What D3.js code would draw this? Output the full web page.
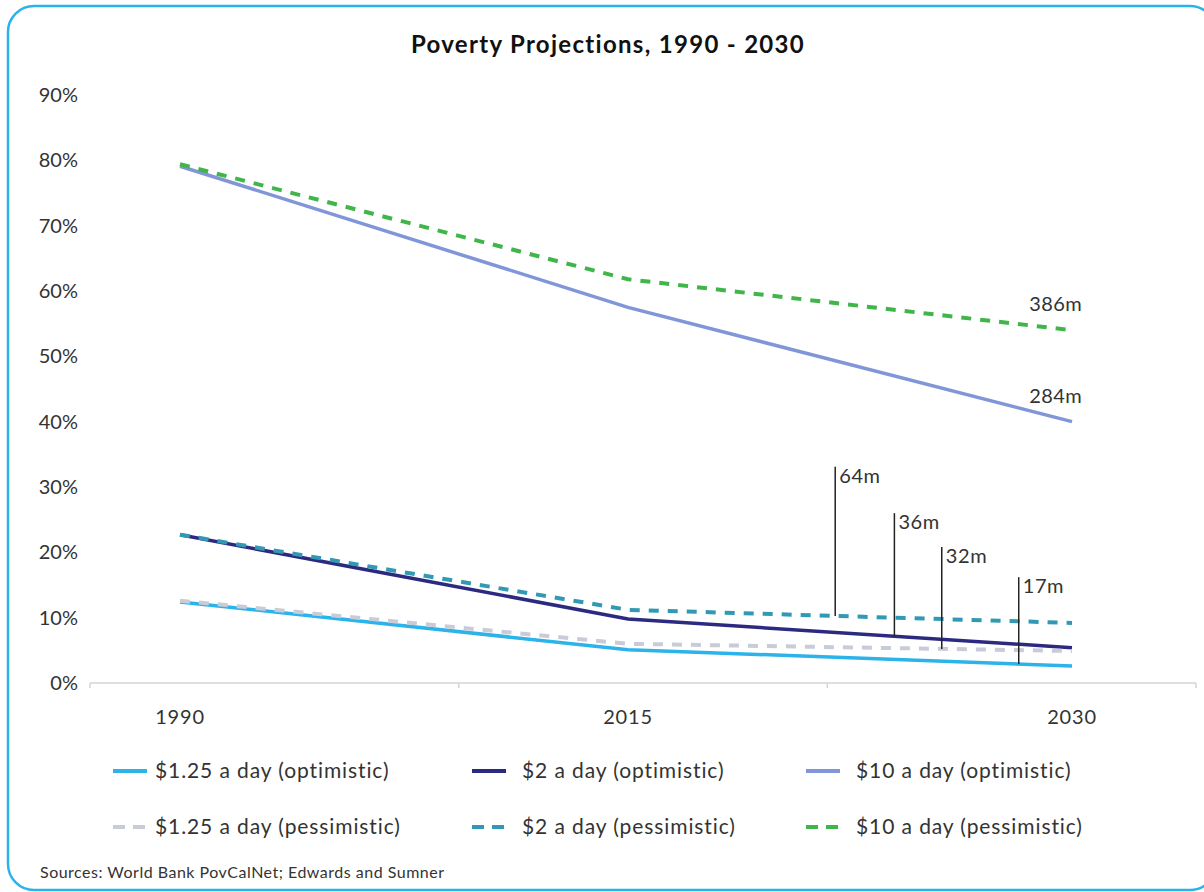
<!DOCTYPE html>
<html>
<head>
<meta charset="utf-8">
<script src="https://cdn.jsdelivr.net/npm/d3@7"></script>
<style>
  html, body { margin: 0; padding: 0; background: #fff; }
  svg { display: block; font-family: Lato, "Open Sans", sans-serif; }
</style>
</head>
<body>
<div id="chart"></div>
<script>
// categories
const years = [1990, 2015, 2030];
const yTicks = [0, 10, 20, 30, 40, 50, 60, 70, 80, 90];

// series values (% of population)
const optimistic125 = [12.4, 5.1, 2.6];
const optimistic2 = [22.7, 9.8, 5.4];
const optimistic10 = [79.1, 57.5, 40.0];
const pessimistic125 = [12.6, 6.0, 4.9];
const pessimistic2 = [22.7, 11.2, 9.2];
const pessimistic10 = [79.4, 61.8, 54.0];

const seriesNames = [
    "$1.25 a day (optimistic)", "$2 a day (optimistic)", "$10 a day (optimistic)",
    "$1.25 a day (pessimistic)", "$2 a day (pessimistic)", "$10 a day (pessimistic)"
];

// gap annotations: label, year position, top of marker (%), series index it drops to
const gapLabels = ["64m", "36m", "32m", "17m"];
const gapYears = [2022, 2024, 2025.6, 2028.2];
const gapTops = [33.1, 26.0, 20.8, 16.2];
const gapSeries = [4, 1, 3, 0];

const endLabels = ["386m", "284m"];
const endSeries = [5, 2];

const width = 1204, height = 892;

const allValues = [optimistic125, optimistic2, optimistic10, pessimistic125, pessimistic2, pessimistic10];
const styles = [
    {color: "#2bb3ea", dash: null},
    {color: "#2c2a80", dash: null},
    {color: "#8196d8", dash: null},
    {color: "#c7ccd8", dash: "10,9"},
    {color: "#3299b4", dash: "10,9"},
    {color: "#40b54a", dash: "10,9"}
];

const svg = d3.select("#chart")
    .append("svg")
    .attr("width", width)
    .attr("height", height);

// frame
svg.append("rect")
    .attr("x", 8).attr("y", 6)
    .attr("width", 1208).attr("height", 884)
    .attr("rx", 26).attr("ry", 26)
    .attr("fill", "none")
    .attr("stroke", "#2ab3ea")
    .attr("stroke-width", 2.5);

// title
svg.append("text")
    .attr("x", 608)
    .attr("y", 53)
    .attr("text-anchor", "middle")
    .style("font-size", "24px")
    .style("font-weight", "bold")
    .style("letter-spacing", "1.3px")
    .attr("fill", "#111")
    .text("Poverty Projections, 1990 - 2030");

const x = d3.scaleLinear().domain(years).range([180, 628, 1072]);
const y = d3.scaleLinear().domain([0, 90]).range([683, 95]);
const band = d3.scaleBand().domain(years).range([90, 1196]);

// y tick labels (no axis line)
svg.append("g")
    .selectAll("text")
    .data(yTicks)
    .join("text")
    .attr("x", 78)
    .attr("y", d => y(d))
    .attr("dy", "0.35em")
    .attr("text-anchor", "end")
    .attr("fill", "#333")
    .style("font-size", "20px")
    .text(d => d + "%");

// x axis line with category boundary ticks
const xAxis = svg.append("g");
xAxis.append("line")
    .attr("x1", band.range()[0]).attr("x2", band.range()[1])
    .attr("y1", y(0)).attr("y2", y(0))
    .attr("stroke", "#d4d4d4").attr("stroke-width", 1.5);
xAxis.selectAll("line.tick")
    .data(years.map(band).concat([band.range()[1]]))
    .join("line")
    .attr("class", "tick")
    .attr("x1", d => d).attr("x2", d => d)
    .attr("y1", y(0)).attr("y2", y(0) + 5)
    .attr("stroke", "#d4d4d4").attr("stroke-width", 1.5);
xAxis.selectAll("text")
    .data(years)
    .join("text")
    .attr("x", d => x(d))
    .attr("y", 717)
    .attr("dy", "0.35em")
    .attr("text-anchor", "middle")
    .attr("fill", "#333")
    .style("font-size", "20px")
    .style("letter-spacing", "0.8px")
    .text(d => d);

// the lines
const line = d3.line()
    .x((d, i) => x(years[i]))
    .y(d => y(d));

svg.append("g")
    .selectAll("path")
    .data(allValues)
    .join("path")
    .attr("fill", "none")
    .attr("stroke", (d, i) => styles[i].color)
    .attr("stroke-width", (d, i) => styles[i].dash ? 4 : 3.5)
    .attr("stroke-dasharray", (d, i) => styles[i].dash)
    .attr("d", d => line(d));

// gap markers
const interp = idx => d3.scaleLinear().domain(years).range(allValues[idx]);
const gaps = svg.append("g");
gapLabels.forEach((label, i) => {
    const gx = x(gapYears[i]);
    gaps.append("line")
        .attr("x1", gx).attr("x2", gx)
        .attr("y1", y(gapTops[i]))
        .attr("y2", y(interp(gapSeries[i])(gapYears[i])))
        .attr("stroke", "#222")
        .attr("stroke-width", 1.5);
    gaps.append("text")
        .attr("x", gx + 4)
        .attr("y", y(gapTops[i]) + 9)
        .attr("dy", "0.35em")
        .attr("fill", "#333")
        .style("font-size", "20px")
        .style("letter-spacing", "0.6px")
        .text(label);
});

// end labels
endLabels.forEach((label, i) => {
    const v = allValues[endSeries[i]][2];
    svg.append("text")
        .attr("x", x(2030) + 10)
        .attr("y", y(v) - 26)
        .attr("dy", "0.35em")
        .attr("text-anchor", "end")
        .attr("fill", "#333")
        .style("font-size", "20px")
        .style("letter-spacing", "0.4px")
        .text(label);
});

// legend
const legendCols = [113, 472, 806];
const legendRows = [771, 827];
const legend = svg.append("g");
seriesNames.forEach((name, i) => {
    const lx = legendCols[i % 3], ly = legendRows[Math.floor(i / 3)];
    legend.append("line")
        .attr("x1", lx).attr("x2", lx + 34)
        .attr("y1", ly).attr("y2", ly)
        .attr("stroke", styles[i].color)
        .attr("stroke-width", 4)
        .attr("stroke-dasharray", styles[i].dash ? "12,8" : null);
    legend.append("text")
        .attr("x", lx + (i % 3 === 0 ? 42 : 50))
        .attr("y", ly)
        .attr("dy", "0.35em")
        .attr("fill", "#333")
        .style("font-size", "21px")
        .style("letter-spacing", "0.9px")
        .text(name);
});

// source
svg.append("text")
    .attr("x", 40)
    .attr("y", 872)
    .attr("dy", "0.35em")
    .attr("fill", "#333")
    .style("font-size", "16px")
    .style("letter-spacing", "0.5px")
    .text("Sources: World Bank PovCalNet; Edwards and Sumner");
</script>
</body>
</html>
